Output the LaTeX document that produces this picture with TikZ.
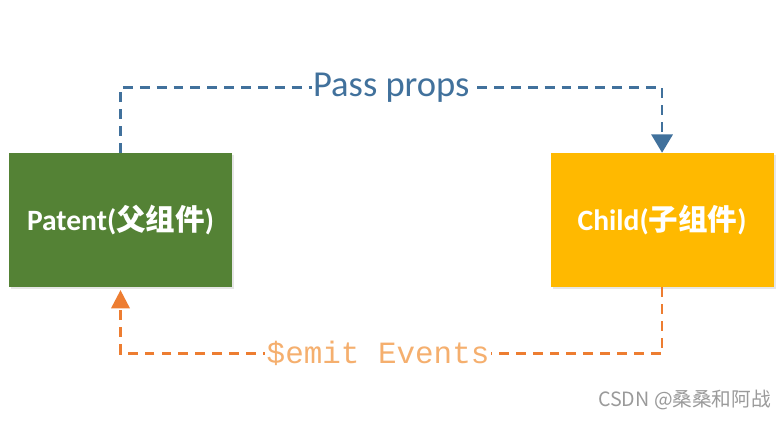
\documentclass[tikz,border=0pt]{standalone}
\usepackage{fontspec}
\setmainfont{Carlito}
\newfontfamily\cjkfont{Noto Sans CJK SC}
\newfontfamily\codefont{Liberation Mono}
\usetikzlibrary{
  arrows.meta,
  positioning,
  shadows
}
\definecolor{pcGreen}{HTML}{548235}
\definecolor{pcYellow}{HTML}{FFB900}
\definecolor{pcBlue}{HTML}{41719C}
\definecolor{pcOrange}{HTML}{ED7D31}
\definecolor{pcPeach}{HTML}{F5AF6E}
\definecolor{pcMark}{HTML}{9A9A9A}
\tikzset{
  compbox/.style={
    draw=none, minimum width=5.575cm, minimum height=3.35cm,
    font=\fontsize{21}{25}\selectfont\bfseries, text=white,
    drop shadow={shadow xshift=1.5pt, shadow yshift=-1.5pt, opacity=0.2}
  },
  parentbox/.style={compbox, fill=pcGreen},
  childbox/.style={compbox, fill=pcYellow},
  propsflow/.style={-{Triangle[length=13pt, width=15pt]}, line width=2pt, pcBlue, dash pattern=on 7pt off 5pt},
  emitflow/.style={-{Triangle[length=13pt, width=13pt]}, line width=2pt, pcOrange, dash pattern=on 7pt off 5pt, shorten >=2pt},
  flowtag/.style={fill=white, inner sep=1pt},
  marktag/.style={font=\cjkfont\fontsize{14}{16}\selectfont, text=pcMark, anchor=east}
}
\begin{document}
\begin{tikzpicture}
  \useasboundingbox (0,0) rectangle (19.55,10.5);
  \node[parentbox] (parent) at (3.0125,5.0) {Patent({\cjkfont 父组件})};
  \node[childbox, right=7.95cm of parent] (child) {Child({\cjkfont 子组件})};
  \draw[propsflow] (parent.north) -- ++(0,1.625) -| (child.north)
    node[pos=0.25, flowtag, text=pcBlue, font=\fontsize{26}{30}\selectfont] (props) {Pass props};
  \draw[emitflow] (child.south) -- ++(0,-1.65) -| (parent.south)
    node[pos=0.25, flowtag, xshift=-0.33cm, text=pcPeach, font=\codefont\fontsize{22}{26}\selectfont] (emit) {\$emit Events};
  \node[marktag] (mark) at (19.4,0.5) {CSDN @桑桑和阿战};
\end{tikzpicture}
\end{document}
